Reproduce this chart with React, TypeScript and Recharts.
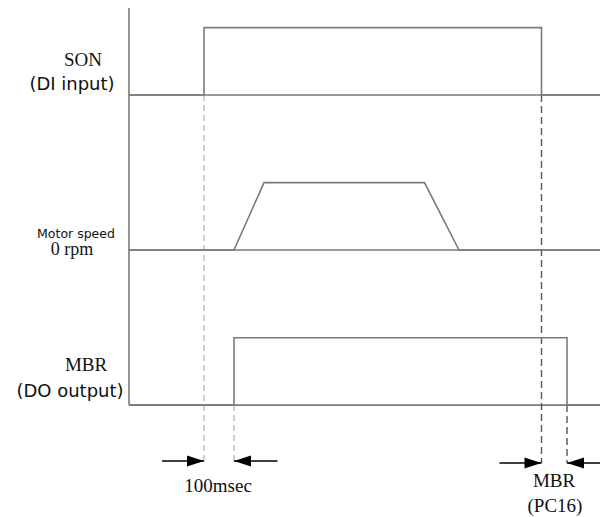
import React from "react"
import {
  ComposedChart,
  Line,
  Scatter,
  XAxis,
  YAxis,
  ReferenceLine,
  ReferenceDot,
} from "recharts"

// time in msec, levels 0 = off / 0 rpm, 1 = on / running
const SON_TIME = [-250, 0, 0, 1125, 1125, 1320]
const SON_LEVEL = [0, 0, 1, 1, 0, 0]
const SPEED_TIME = [-250, 100, 200, 735, 850, 1320]
const SPEED_LEVEL = [0, 0, 1, 1, 0, 0]
const MBR_TIME = [-250, 100, 100, 1210, 1210, 1320]
const MBR_LEVEL = [0, 0, 1, 1, 0, 0]

const LANE_LABELS = [
  ["SON", "(DI input)"],
  ["Motor speed", "0 rpm"],
  ["MBR", "(DO output)"],
]
const DELAY_LABEL = "100msec"
const MBR_DELAY_LABEL = ["MBR", "(PC16)"]

const T_MIN = -250
const T_MAX = 1320
const LANE_BASE = [4.6, 2.3, 0]
const Y_DOMAIN = [-1.66, 6.01]
const ARROW_Y1 = -0.83
const ARROW_Y2 = -0.86

const toRows = (time: number[], level: number[], base: number) =>
  time.map((t, i) => ({ t, y: base + level[i] }))

const sonData = toRows(SON_TIME, SON_LEVEL, LANE_BASE[0])
const speedData = toRows(SPEED_TIME, SPEED_LEVEL, LANE_BASE[1])
const mbrData = toRows(MBR_TIME, MBR_LEVEL, LANE_BASE[2])

const heads = [
  { t: SON_TIME[1], y: ARROW_Y1, dir: 1 },
  { t: MBR_TIME[1], y: ARROW_Y1, dir: -1 },
  { t: SON_TIME[3], y: ARROW_Y2, dir: 1 },
  { t: MBR_TIME[3], y: ARROW_Y2, dir: -1 },
]

const LINE_COLOR = "#7a7a7a"
const SANS = "'DejaVu Sans', sans-serif"
const SERIF = "'Liberation Serif', 'Times New Roman', serif"

// label layout per lane: [cx, dy from baseline, font, size, weight]
const LABEL_STYLE: [number, number, string, number, string][][] = [
  [[83, -36, SERIF, 19, "normal"], [72, -12, SANS, 18, "normal"]],
  [[76, -17, SANS, 12.5, "normal"], [72, -1, SERIF, 18, "normal"]],
  [[86, -41, SERIF, 19, "normal"], [70, -15, SANS, 18, "normal"]],
]

const LaneTick = (props: any) => {
  const { y, payload } = props
  const idx = LANE_BASE.indexOf(payload.value)
  if (idx < 0) return null
  return (
    <g>
      {LANE_LABELS[idx].map((txt, i) => {
        const [cx, dy, font, size, weight] = LABEL_STYLE[idx][i]
        return (
          <text
            key={i}
            x={cx}
            y={y + dy}
            textAnchor="middle"
            dominantBaseline="central"
            fontFamily={font}
            fontSize={size}
            fontWeight={weight}
            fill="#111"
          >
            {txt}
          </text>
        )
      })}
    </g>
  )
}

const ArrowHead = (props: any) => {
  const { cx, cy, payload } = props
  const d = payload.dir
  const pts = `${cx},${cy} ${cx - d * 17},${cy - 5.5} ${cx - d * 17},${cy + 5.5}`
  return <polygon points={pts} fill="#000" />
}

const textLabel = (value: string) => ({
  value,
  position: "center" as const,
  fill: "#111",
  fontSize: 19,
  fontFamily: SERIF,
})

export default function App() {
  return (
    <div style={{ position: "absolute", left: 0, top: 0, background: "#fff" }}>
      <ComposedChart width={600} height={517} margin={{ top: 0, right: 0, bottom: 0, left: 0 }}>
        <XAxis type="number" dataKey="t" domain={[T_MIN, T_MAX]} allowDataOverflow hide />
        <YAxis
          type="number"
          dataKey="y"
          domain={Y_DOMAIN}
          allowDataOverflow
          ticks={LANE_BASE}
          interval={0}
          width={129}
          axisLine={false}
          tickLine={false}
          tick={<LaneTick />}
        />

        {/* vertical axis */}
        <ReferenceLine
          segment={[{ x: T_MIN, y: 0 }, { x: T_MIN, y: 5.89 }]}
          stroke={LINE_COLOR}
          strokeWidth={1.6}
          ifOverflow="visible"
        />

        {/* lane baselines */}
        {LANE_BASE.map((b) => (
          <ReferenceLine key={b} y={b} stroke={LINE_COLOR} strokeWidth={1.6} />
        ))}

        {/* dashed timing guides */}
        <ReferenceLine
          segment={[{ x: SON_TIME[1], y: LANE_BASE[0] }, { x: SON_TIME[1], y: ARROW_Y1 }]}
          stroke="#bdbdbd"
          strokeWidth={1.5}
          strokeDasharray="6 4"
          ifOverflow="visible"
        />
        <ReferenceLine
          segment={[{ x: MBR_TIME[1], y: LANE_BASE[2] }, { x: MBR_TIME[1], y: ARROW_Y1 }]}
          stroke="#bdbdbd"
          strokeWidth={1.5}
          strokeDasharray="6 4"
          ifOverflow="visible"
        />
        <ReferenceLine
          segment={[{ x: SON_TIME[3], y: LANE_BASE[0] }, { x: SON_TIME[3], y: ARROW_Y2 }]}
          stroke="#555"
          strokeWidth={1.4}
          strokeDasharray="7 4"
          ifOverflow="visible"
        />
        <ReferenceLine
          segment={[{ x: MBR_TIME[3], y: LANE_BASE[2] }, { x: MBR_TIME[3], y: ARROW_Y2 }]}
          stroke="#555"
          strokeWidth={1.4}
          strokeDasharray="7 4"
          ifOverflow="visible"
        />

        {/* arrow shafts */}
        <ReferenceLine segment={[{ x: -140, y: ARROW_Y1 }, { x: SON_TIME[1], y: ARROW_Y1 }]} stroke="#000" strokeWidth={1.5} />
        <ReferenceLine segment={[{ x: MBR_TIME[1], y: ARROW_Y1 }, { x: 245, y: ARROW_Y1 }]} stroke="#000" strokeWidth={1.5} />
        <ReferenceLine segment={[{ x: 985, y: ARROW_Y2 }, { x: SON_TIME[3], y: ARROW_Y2 }]} stroke="#000" strokeWidth={1.5} />
        <ReferenceLine segment={[{ x: MBR_TIME[3], y: ARROW_Y2 }, { x: T_MAX, y: ARROW_Y2 }]} stroke="#000" strokeWidth={1.5} />

        <Line data={sonData} dataKey="y" type="linear" stroke={LINE_COLOR} strokeWidth={1.6} dot={false} isAnimationActive={false} />
        <Line data={speedData} dataKey="y" type="linear" stroke={LINE_COLOR} strokeWidth={1.6} dot={false} isAnimationActive={false} />
        <Line data={mbrData} dataKey="y" type="linear" stroke={LINE_COLOR} strokeWidth={1.6} dot={false} isAnimationActive={false} />
        <Scatter data={heads} dataKey="y" shape={<ArrowHead />} isAnimationActive={false} />

        <ReferenceDot x={47} y={-1.19} r={0} stroke="none" fill="none" label={textLabel(DELAY_LABEL)} />
        <ReferenceDot x={1167} y={-1.11} r={0} stroke="none" fill="none" label={textLabel(MBR_DELAY_LABEL[0])} />
        <ReferenceDot x={1170} y={-1.48} r={0} stroke="none" fill="none" label={textLabel(MBR_DELAY_LABEL[1])} />
      </ComposedChart>
    </div>
  )
}
